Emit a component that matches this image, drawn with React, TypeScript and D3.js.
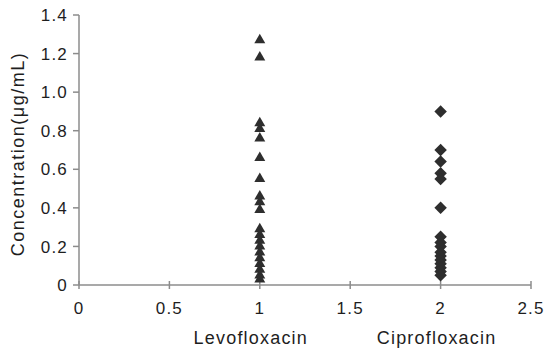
import React from 'react';
import * as d3 from 'd3';

// values
const levofloxacin = [1.27, 1.18, 0.84, 0.81, 0.76, 0.66, 0.55, 0.46, 0.43, 0.39, 0.29, 0.26, 0.23, 0.2, 0.17, 0.14, 0.11, 0.08, 0.05, 0.03];
const ciprofloxacin = [0.9, 0.7, 0.64, 0.58, 0.55, 0.4, 0.25, 0.22, 0.2, 0.17, 0.15, 0.13, 0.11, 0.09, 0.07, 0.05];
const xTicks = [0, 0.5, 1, 1.5, 2, 2.5];
const yTicks = [0, 0.2, 0.4, 0.6, 0.8, 1.0, 1.2, 1.4];
const categories = [
  { name: 'Levofloxacin', pos: 1, shift: -9 },
  { name: 'Ciprofloxacin', pos: 2, shift: -4 },
];

const width = 546;
const height = 352;
const margin = { top: 15, right: 15, bottom: 67, left: 79 };
const font = "'Liberation Sans', Arial, sans-serif";
const axisColor = '#8c8c8c';
const markColor = '#2e2e2e';

const App = () => {
  const x = d3.scaleLinear().domain([0, 2.5]).range([margin.left, width - margin.right]);
  const y = d3.scaleLinear().domain([0, 1.4]).range([height - margin.bottom, margin.top]);

  const triangle = d3.symbol().type(d3.symbolTriangle).size(52)();
  const diamond = d3.symbol().type(d3.symbolSquare).size(78)();

  const yFmt = (v: number) => (v === 0 ? '0' : d3.format('.1f')(v));

  return (
    <svg width={width} height={height} style={{ position: 'absolute', left: 0, top: 0, background: '#fff' }}>
      <rect width={width} height={height} fill="#fff" />
      {/* y axis */}
      <line x1={x(0)} x2={x(0)} y1={y(0)} y2={y(1.4)} stroke={axisColor} strokeWidth={1.5} />
      {yTicks.map((t) => (
        <g key={'y' + t}>
          <line x1={x(0) - 6} x2={x(0)} y1={y(t)} y2={y(t)} stroke={axisColor} strokeWidth={1.5} />
          <text x={x(0) - 11} y={y(t)} dy="0.36em" textAnchor="end" fontFamily={font} fontSize={17} letterSpacing={1.2} fill="#1e1e1e">
            {yFmt(t)}
          </text>
        </g>
      ))}
      {/* x axis */}
      <line x1={x(0)} x2={x(2.5)} y1={y(0)} y2={y(0)} stroke={axisColor} strokeWidth={1.5} />
      {xTicks.map((t) => (
        <g key={'x' + t}>
          <line x1={x(t)} x2={x(t)} y1={y(0) - 4} y2={y(0) + 4} stroke={axisColor} strokeWidth={1.5} />
          <text x={x(t)} y={y(0) + 29} textAnchor="middle" fontFamily={font} fontSize={17} letterSpacing={1.2} fill="#1e1e1e">
            {t}
          </text>
        </g>
      ))}
      {categories.map((c) => (
        <text key={c.name} x={x(c.pos) + c.shift} y={y(0) + 59} textAnchor="middle" fontFamily={font} fontSize={18} letterSpacing={1.2} fill="#1e1e1e">
          {c.name}
        </text>
      ))}
      <text
        transform={`translate(24,${(y(0) + y(1.4)) / 2 + 4}) rotate(-90)`}
        textAnchor="middle"
        fontFamily={font}
        fontSize={18}
        letterSpacing={1.5}
        fill="#1e1e1e"
      >
        Concentration(μg/mL)
      </text>
      {/* points */}
      {levofloxacin.map((v, i) => (
        <path key={'l' + i} d={triangle} transform={`translate(${x(1)},${y(v)})`} fill={markColor} />
      ))}
      {ciprofloxacin.map((v, i) => (
        <path key={'c' + i} d={diamond} transform={`translate(${x(2)},${y(v)}) rotate(45)`} fill={markColor} />
      ))}
    </svg>
  );
};

export default App;
